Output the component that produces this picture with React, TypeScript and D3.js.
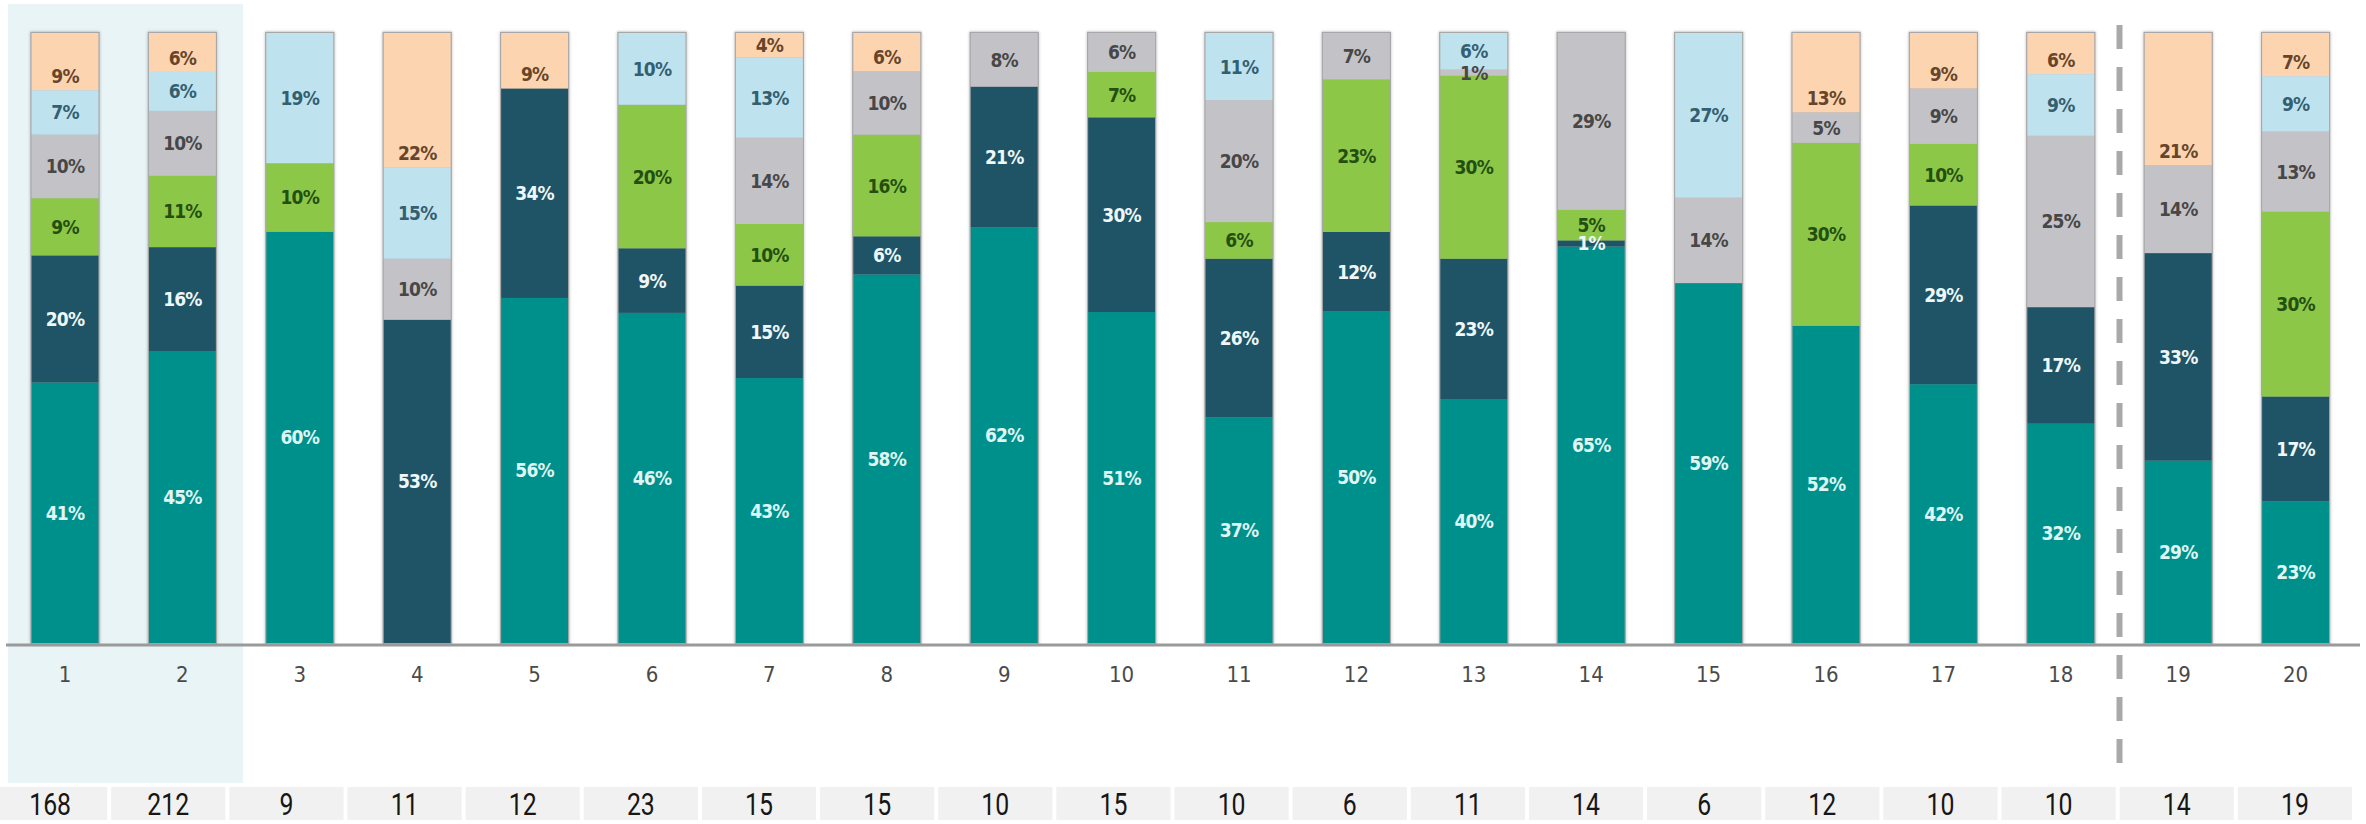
import React from 'react';
import * as d3 from 'd3';

const categories = ['1','2','3','4','5','6','7','8','9','10','11','12','13','14','15','16','17','18','19','20'];
// bottom → top
const seriesTeal = [41,45,60,0,56,46,43,58,62,51,37,50,40,65,59,52,42,32,29,23];
const seriesNavy = [20,16,0,53,34,9,15,6,21,30,26,12,23,1,0,0,29,17,33,17];
const seriesGreen = [9,11,10,0,0,20,10,16,0,7,6,23,30,5,0,30,10,0,0,30];
const seriesGrey = [10,10,0,10,0,0,14,10,8,6,20,7,1,29,14,5,9,25,14,13];
const seriesLightBlue = [7,6,19,15,0,10,13,0,0,0,11,0,6,0,27,0,0,9,0,9];
const seriesPeach = [9,6,0,22,9,0,4,6,0,0,0,0,0,0,0,13,9,6,21,7];
const counts = [168,212,9,11,12,23,15,15,10,15,10,6,11,14,6,12,10,10,14,19];
const highlighted = ['1','2'];
const dividerBefore = '19';

const keys = ['teal','navy','green','grey','lightBlue','peach'];
const seriesValues: Record<string, number[]> = {
  teal: seriesTeal, navy: seriesNavy, green: seriesGreen,
  grey: seriesGrey, lightBlue: seriesLightBlue, peach: seriesPeach,
};
const fills: Record<string, string> = {
  teal: '#00908c', navy: '#1e5466', green: '#8cc748',
  grey: '#c3c2c6', lightBlue: '#bfe2ef', peach: '#fdd4b0',
};
const labelColors: Record<string, string> = {
  teal: '#dff6f4', navy: '#eef7fa', green: '#244f10',
  grey: '#474747', lightBlue: '#335f70', peach: '#66452a',
};

const W = 2366, H = 824;

export default function App() {
  const rows = categories.map((c, i) => {
    const r: any = { cat: c };
    keys.forEach(k => { r[k] = seriesValues[k][i]; });
    return r;
  });
  const stack = d3.stack<any>().keys(keys).offset(d3.stackOffsetExpand);
  const layers = stack(rows);

  const x = d3.scaleBand<string>().domain(categories).range([6.3, 2354.3])
    .paddingInner(0.43).paddingOuter(0.215);
  const y = d3.scaleLinear().domain([0, 1]).range([643, 33]);
  const cells = d3.scaleBand<string>().domain(categories).range([-7, 2352]).paddingInner(0.033).paddingOuter(0);

  const bw = x.bandwidth();
  const step = x.step();
  const gap = step - bw;
  const hlX0 = (x(highlighted[0]) as number) - gap * 0.47;
  const hlX1 = (x(highlighted[highlighted.length - 1]) as number) + bw + gap * 0.54;
  const divX = (x(dividerBefore) as number) - gap / 2;

  const labelFont = '"DejaVu Sans Condensed", "DejaVu Sans", sans-serif';

  return (
    <svg width={W} height={H} style={{ position: 'absolute', left: 0, top: 0, background: '#fff' }}>
      <defs>
        <filter id="sh" x="-20%" y="-5%" width="140%" height="110%">
          <feDropShadow dx="0" dy="0" stdDeviation="1.5" floodColor="#000" floodOpacity="0.25" />
        </filter>
      </defs>
      <rect x={hlX0} y={4} width={hlX1 - hlX0} height={779} fill="#e9f4f7" />
      {/* bars */}
      {categories.map((c) => (
        <rect key={'o' + c} x={x(c)} y={y(1)} width={bw} height={y(0) - y(1)}
          fill="#aaa" stroke="#a8a8a8" strokeWidth={2.5} filter="url(#sh)" />
      ))}
      {layers.map((layer) => (
        <g key={layer.key}>
          {layer.map((d, i) => {
            const h = y(d[0]) - y(d[1]);
            if (h <= 0) return null;
            return (
              <rect key={i} x={x(categories[i])} y={y(d[1])} width={bw} height={h}
                fill={fills[layer.key]} />
            );
          })}
        </g>
      ))}
      {/* value labels */}
      {layers.map((layer) => (
        <g key={'l' + layer.key}>
          {layer.map((d, i) => {
            const v = seriesValues[layer.key][i];
            if (!v) return null;
            const top = y(d[1]);
            const bot = y(d[0]);
            let cy = (top + bot) / 2;
            if (layer.key === 'peach') cy = Math.max(cy, bot - 14);
            return (
              <text key={i} x={(x(categories[i]) as number) + bw / 2} y={cy}
                textAnchor="middle" dominantBaseline="central"
                fontFamily={labelFont} fontWeight={700} fontSize={19}
                letterSpacing={-0.8}
                fill={labelColors[layer.key]}>{v}%</text>
            );
          })}
        </g>
      ))}
      {/* axis line */}
      <line x1={6} x2={2360} y1={645} y2={645} stroke="#9a9a9a" strokeWidth={3} />
      {/* tick labels */}
      {categories.map((c) => (
        <text key={'t' + c} x={(x(c) as number) + bw / 2} y={674} textAnchor="middle"
          dominantBaseline="central" fontFamily={labelFont} fontSize={22} fill="#4a4a4a">{c}</text>
      ))}
      {/* divider */}
      <line x1={divX} x2={divX} y1={25} y2={764} stroke="#a9a9a9" strokeWidth={6}
        strokeDasharray="24 18" />
      {/* counts row */}
      {categories.map((c, i) => {
        const cx = (cells(c) as number) + cells.bandwidth() / 2;
        return (
          <g key={'c' + c}>
            <rect x={cells(c)} y={787} width={cells.bandwidth()} height={33} fill="#f1f1f1" />
            <g transform={`translate(${cx},805) scale(0.8,1)`}>
              <text x={0} y={0} textAnchor="middle"
                dominantBaseline="central" fontFamily="Roboto, sans-serif" fontSize={31}
                fill="#161616">{counts[i]}</text>
            </g>
          </g>
        );
      })}
    </svg>
  );
}
